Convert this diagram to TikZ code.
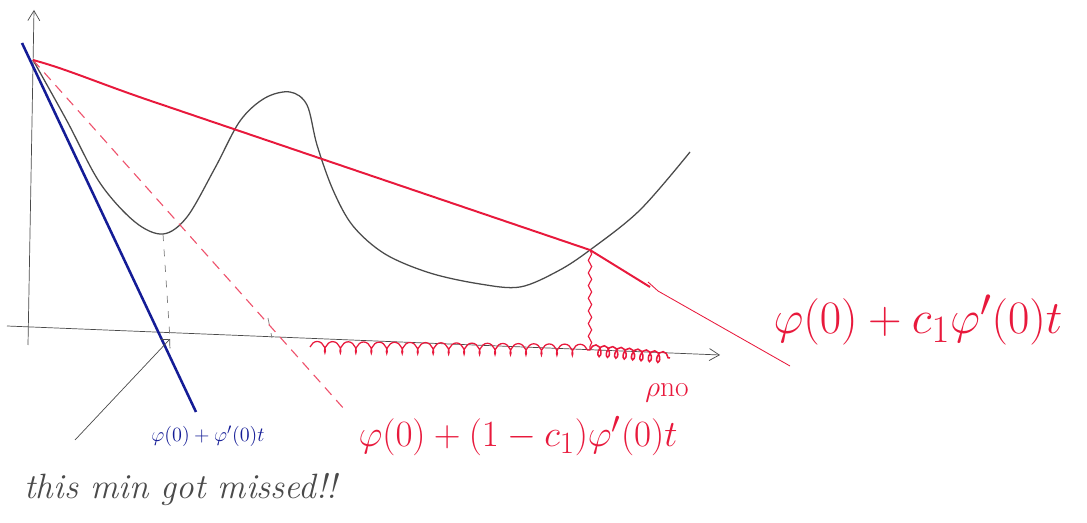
\documentclass[tikz,border=0pt]{standalone}
\usetikzlibrary{arrows.meta,decorations.pathmorphing}
\definecolor{cpen}{HTML}{E8193C}
\definecolor{cink}{HTML}{141C96}
\definecolor{cpencil}{HTML}{4A4A4A}
\tikzset{
  every picture/.style={>={Straight Barb[length=2.5mm,width=3mm]}},
  axis/.style={cpencil, line width=0.5pt, ->},
  fcurve/.style={cpencil, line width=0.9pt},
  tanline/.style={cink, line width=1.8pt},
  upline/.style={cpen, line width=1.4pt},
  lowline/.style={cpen!75, line width=0.8pt, dash pattern=on 7pt off 5pt},
  guide/.style={cpencil!70, line width=0.5pt, dash pattern=on 5pt off 6pt},
  okzone/.style={cpen, line width=0.9pt, decorate,
    decoration={coil, aspect=0.6, amplitude=4pt, segment length=11pt}},
  nozone/.style={cpen, line width=1.1pt, decorate,
    decoration={coil, aspect=0.6, amplitude=4pt, segment length=6pt}},
  lbl/.style={inner sep=0pt},
}
\begin{document}
\begin{tikzpicture}[x=0.025cm, y=-0.025cm]
  \path[use as bounding box] (0,0) rectangle (1087,523);
  % axes
  \draw[axis] (28,345) -- (34,10);
  \draw[axis] (7,326) -- (720,355);
  \coordinate (O) at (33,60);
  \coordinate (P) at (590,250);
  \coordinate (Pax) at (590,350);
  \coordinate (m1) at (163,234);
  \coordinate (m1ax) at (170,339);
  % phi(t)
  \draw[fcurve] plot[smooth, tension=0.55] coordinates {
    (33,60) (67,121) (100,183) (135,222) (163,234) (187,217) (215,168)
    (240,121) (265,98) (290,92) (307,105) (317,145) (333,190) (353,226)
    (385,254) (430,273) (480,284) (520,287) (558,271) (590,250)
    (640,210) (690,152)};
  \draw[guide] (m1) -- (m1ax);
  \draw[guide] (268,318) -- (272,338);
  % tangent and the two lines
  \draw[tanline] (22,43) -- (196,412);
  \draw[lowline] (O) -- (345,410);
  \draw[upline] (O) .. controls (70,70) and (100,84) .. (160,104) -- (P) -- (650,287);
  \draw[cpen, line width=0.6pt] (648,282) -- (658,291) -- (790,366);
  % accepted steps
  \draw[cpen, line width=0.8pt, decorate,
    decoration={snake, amplitude=1.2pt, segment length=9pt}] (P) -- (Pax);
  \draw[okzone] (310,347) -- (Pax);
  \draw[nozone] (Pax) -- (670,358);
  % labels
  \node[lbl, cink, font=\fontsize{15}{18}\selectfont] (lblTan) at (208,436)
    {$\varphi(0)+\varphi'(0)t$};
  \node[lbl, cpen, font=\Huge] (lblLow) at (518,436)
    {\scalebox{1.06}{$\varphi(0)+(1-c_1)\varphi'(0)t$}};
  \node[lbl, cpen, font=\Huge] (lblUp) at (918,320)
    {\scalebox{1.33}{$\varphi(0)+c_1\varphi'(0)t$}};
  \node[lbl, cpen, font=\fontsize{21}{24}\selectfont] (lblNo) at (667,393)
    {$\rho$no};
  \node[lbl, cpencil, font=\fontsize{25}{28}\selectfont\itshape] (lblMissed)
    at (181,490) {this min got missed!!};
  \draw[cpencil, line width=0.5pt, -{Straight Barb[length=1.6mm]}]
    (75,440) -- (m1ax);
\end{tikzpicture}
\end{document}
